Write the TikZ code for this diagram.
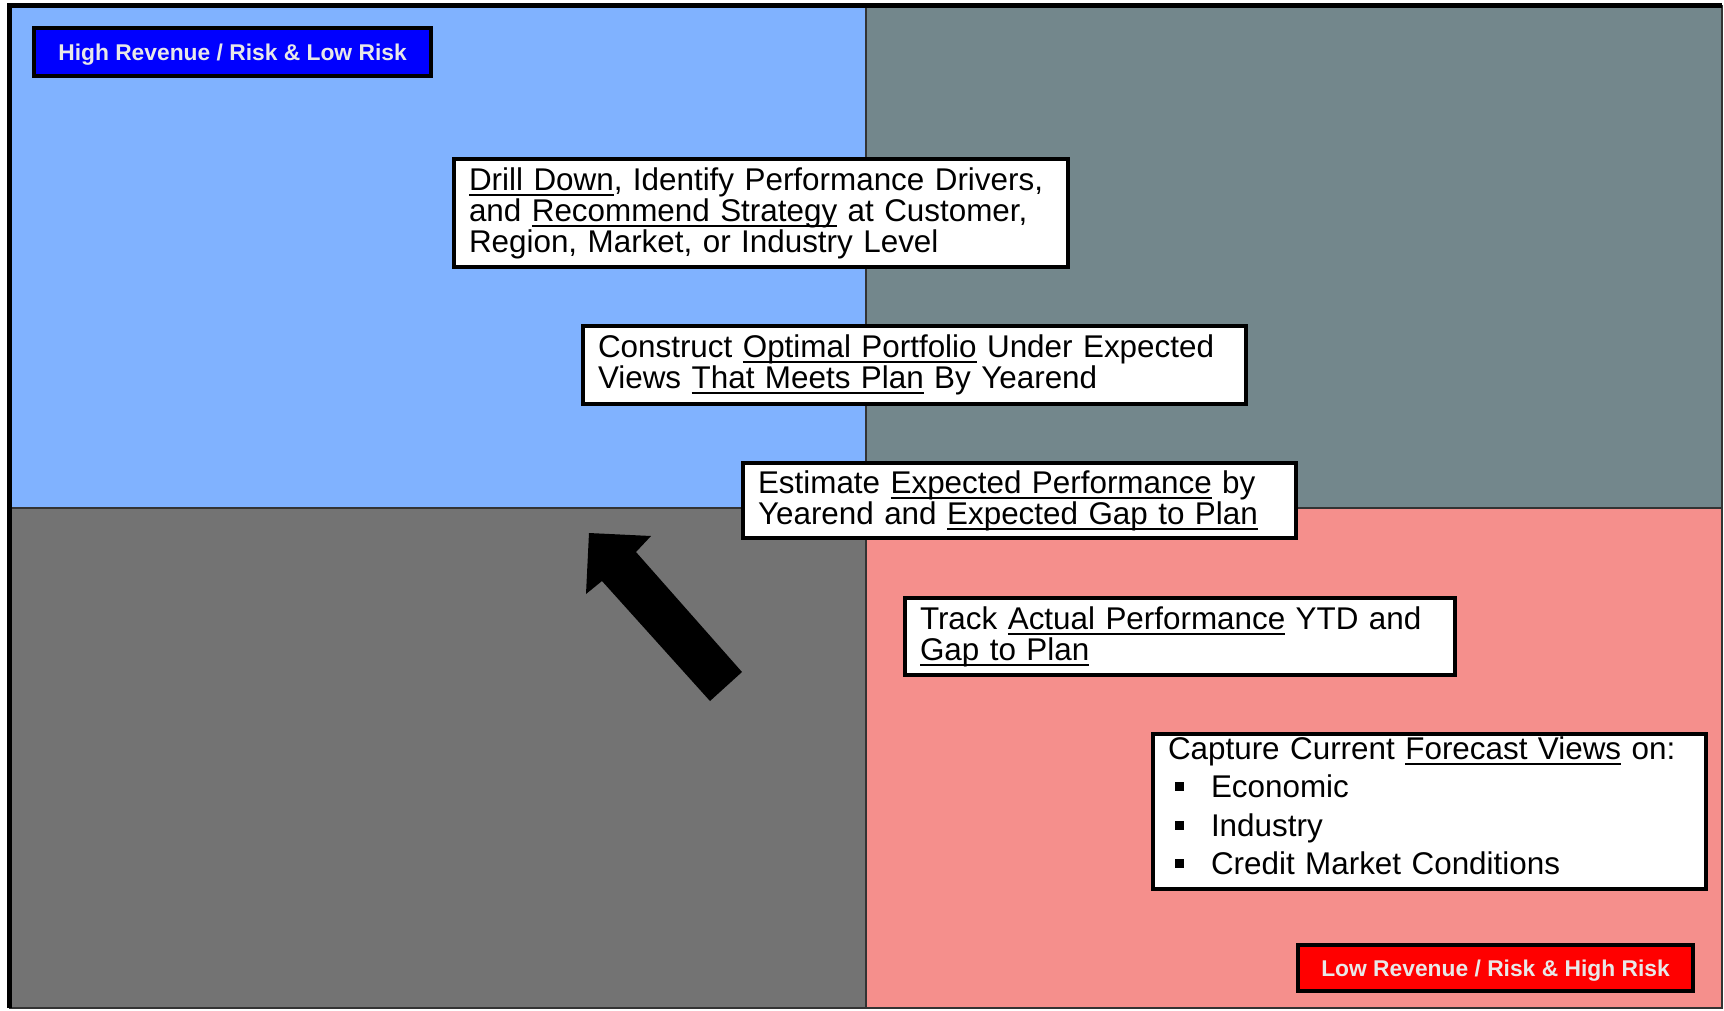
\documentclass[tikz,border=0pt]{standalone}
\usepackage{fontspec}
\setmainfont{Liberation Sans}

\definecolor{quadblue}{RGB}{128,178,255}
\definecolor{quadteal}{RGB}{115,135,140}
\definecolor{quadgrey}{RGB}{115,115,115}
\definecolor{quadsalmon}{RGB}{245,143,140}
\definecolor{labelgrey}{RGB}{232,232,232}

\newcommand{\ulin}[1]{\leavevmode\setbox0=\hbox{#1}\rlap{\vrule width\wd0 height-3.5pt depth5.5pt}\box0\relax}
\newcommand{\sqbullet}{\makebox[43pt][l]{\hspace{7pt}\raisebox{6.5pt}{\rule{9pt}{9pt}}}}

\begin{document}
\begin{tikzpicture}[x=1pt,y=-1pt,
    infobox/.style={draw=black, line width=4pt, fill=white, anchor=north west,
      outer sep=0pt, inner xsep=15pt, inner ysep=0pt, align=left,
      font=\fontsize{31.4}{31}\selectfont},
    riskbox/.style={draw=black, line width=4pt, anchor=north west, outer sep=0pt,
      inner sep=0pt, text depth=0pt, text=labelgrey,
      font=\bfseries\fontsize{22.8}{24}\selectfont}]
    \useasboundingbox (0,0) rectangle (1724,1010);

    \coordinate (NW) at (9.5,5.5);
    \coordinate (NE) at (1722,5.5);
    \coordinate (SW) at (9.5,1008);
    \coordinate (SE) at (1722,1008);
    \coordinate (M) at (866,508);

    % quadrants
    \fill[quadblue] (NW) rectangle (M);
    \fill[quadteal] (866,5.5) rectangle (1722,508);
    \fill[quadgrey] (9.5,508) rectangle (866,1008);
    \fill[quadsalmon] (M) rectangle (SE);

    \draw[line width=1.5pt, black!80] (866,5.5) -- (866,1008);
    \draw[line width=1.5pt, black!80] (9.5,508) -- (1722,508);
    \draw[line width=1.5pt, black!80] (NW) rectangle (SE);
    \draw[line width=5pt] (SW) -- (NW) -- (NE);

    % block arrow
    \coordinate (tip) at (589,533);
    \coordinate (hr) at (651,536);
    \coordinate (nr) at (636,552);
    \coordinate (er) at (742,672);
    \coordinate (el) at (710,701);
    \coordinate (nl) at (602,581);
    \coordinate (hl) at (586,594);
    \fill (tip) -- (hr) -- (nr) -- (er) -- (el) -- (nl) -- (hl) -- cycle;

    \node[riskbox, fill=blue, minimum width=397pt, minimum height=48pt] (highrisk) at (34,28)
      {High Revenue / Risk \& Low Risk};
    \node[riskbox, fill=red, minimum width=395pt, minimum height=46pt] (lowrisk) at (1298,945)
      {Low Revenue / Risk \& High Risk};

    \node[infobox, text width=584pt, minimum height=108pt] (drill) at (454,159)
      {\ulin{Drill Down}, Identify Performance Drivers,\\
       and \ulin{Recommend Strategy} at Customer,\\
       Region, Market, or Industry Level};
    \node[infobox, text width=633pt, minimum height=78pt] (portfolio) at (583,326)
      {Construct \ulin{Optimal Portfolio} Under Expected\\
       Views \ulin{That Meets Plan} By Yearend};
    \node[infobox, text width=523pt, minimum height=75pt] (estimate) at (743,463)
      {Estimate \ulin{Expected Performance} by\\
       Yearend and \ulin{Expected Gap to Plan}};
    \node[infobox, text width=520pt, minimum height=77pt] (track) at (905,598)
      {Track \ulin{Actual Performance} YTD and\\
       \ulin{Gap to Plan}};
    \node[infobox, text width=523pt, minimum height=155pt,
      font=\fontsize{31.4}{38.5}\selectfont] (capture) at (1153,734)
      {Capture Current \ulin{Forecast Views}\ on:\\
       \sqbullet Economic\\
       \sqbullet Industry\\
       \sqbullet Credit Market Conditions\rule[-12pt]{0pt}{12pt}};
\end{tikzpicture}
\end{document}
